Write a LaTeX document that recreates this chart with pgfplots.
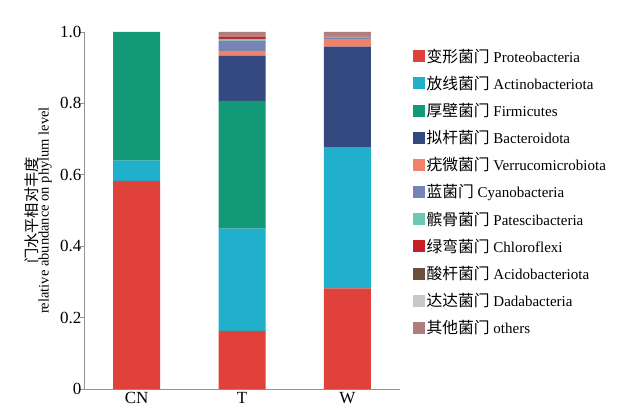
\documentclass[border=0pt]{standalone}
\usepackage{fontspec}
\setmainfont{Liberation Serif}
\newfontfamily\cjk[Scale=1.05]{Noto Sans CJK SC}
\usepackage{pgfplots}
\usepackage{pgfplotstable}
\pgfplotsset{compat=1.18}

\definecolor{cPro}{RGB}{224,65,58}
\definecolor{cAct}{RGB}{32,176,204}
\definecolor{cFir}{RGB}{19,152,120}
\definecolor{cBac}{RGB}{52,73,128}
\definecolor{cVer}{RGB}{240,130,105}
\definecolor{cCya}{RGB}{117,133,181}
\definecolor{cPat}{RGB}{107,200,181}
\definecolor{cChl}{RGB}{198,32,39}
\definecolor{cAci}{RGB}{107,78,60}
\definecolor{cDad}{RGB}{200,200,200}
\definecolor{cOth}{RGB}{176,124,124}

% relative abundance per sample (columns: phyla)
\pgfplotstableread{
x Pro Act Fir Bac Ver Cya Pat Chl Aci Dad Oth
0 0.583 0.057 0.360 0     0     0     0     0     0     0     0
1 0.163 0.286 0.358 0.126 0.014 0.029 0.005 0.006 0.001 0.001 0.011
2 0.282 0.394 0     0.283 0.021 0.005 0.001 0.001 0.001 0.001 0.011
}\abund

\begin{document}
\begin{tikzpicture}
\path[use as bounding box, fill=white] (-84pt,-26pt) rectangle (539pt,389pt);
\begin{axis}[
  at={(0,0)}, anchor=south west,
  scale only axis, width=316pt, height=357pt,
  ybar stacked, bar width=47pt, bar shift=0pt,
  xmin=-0.5, xmax=2.5, ymin=0, ymax=1,
  axis x line=bottom, axis y line=left,
  axis line style={-, draw=gray!85, line width=0.9pt},
  xtick={0,1,2}, xticklabels={CN,T,W},
  ytick={0,0.2,0.4,0.6,0.8,1.0},
  yticklabels={0,0.2,0.4,0.6,0.8,1.0},
  tick style={draw=gray!85, line width=0.8pt},
  major tick length=4pt,
  tick align=inside,
  y tick style={xshift=-4pt},
  ticklabel style={font=\fontsize{17}{19}\selectfont},
  yticklabel style={xshift=1pt},
  /pgf/number format/assume math mode=true,
  every axis y label/.style={at={(axis description cs:-0.145,0.5)}, rotate=90, anchor=center, align=center},
  ylabel={{\cjk\fontsize{14.5}{16}\selectfont 门水平相对丰度}\\[-1pt]{\fontsize{14.5}{16}\selectfont relative abundance on phylum level}},
  legend style={at={(1.03,0.965)}, anchor=north west, draw=none, fill=none,
    font=\fontsize{15}{17}\selectfont, row sep=8.4pt, cells={anchor=west}},
  legend image code/.code={\fill[#1] (0pt,-6pt) rectangle (12pt,6pt);},
  every axis plot/.append style={draw=none},
]
\addplot[fill=cPro] table[x=x,y=Pro]{\abund};
\addlegendentry{{\cjk 变形菌门} Proteobacteria}
\addplot[fill=cAct] table[x=x,y=Act]{\abund};
\addlegendentry{{\cjk 放线菌门} Actinobacteriota}
\addplot[fill=cFir] table[x=x,y=Fir]{\abund};
\addlegendentry{{\cjk 厚壁菌门} Firmicutes}
\addplot[fill=cBac] table[x=x,y=Bac]{\abund};
\addlegendentry{{\cjk 拟杆菌门} Bacteroidota}
\addplot[fill=cVer] table[x=x,y=Ver]{\abund};
\addlegendentry{{\cjk 疣微菌门} Verrucomicrobiota}
\addplot[fill=cCya] table[x=x,y=Cya]{\abund};
\addlegendentry{{\cjk 蓝菌门} Cyanobacteria}
\addplot[fill=cPat] table[x=x,y=Pat]{\abund};
\addlegendentry{{\cjk 髌骨菌门} Patescibacteria}
\addplot[fill=cChl] table[x=x,y=Chl]{\abund};
\addlegendentry{{\cjk 绿弯菌门} Chloroflexi}
\addplot[fill=cAci] table[x=x,y=Aci]{\abund};
\addlegendentry{{\cjk 酸杆菌门} Acidobacteriota}
\addplot[fill=cDad] table[x=x,y=Dad]{\abund};
\addlegendentry{{\cjk 达达菌门} Dadabacteria}
\addplot[fill=cOth] table[x=x,y=Oth]{\abund};
\addlegendentry{{\cjk 其他菌门} others}
\end{axis}
\end{tikzpicture}
\end{document}
